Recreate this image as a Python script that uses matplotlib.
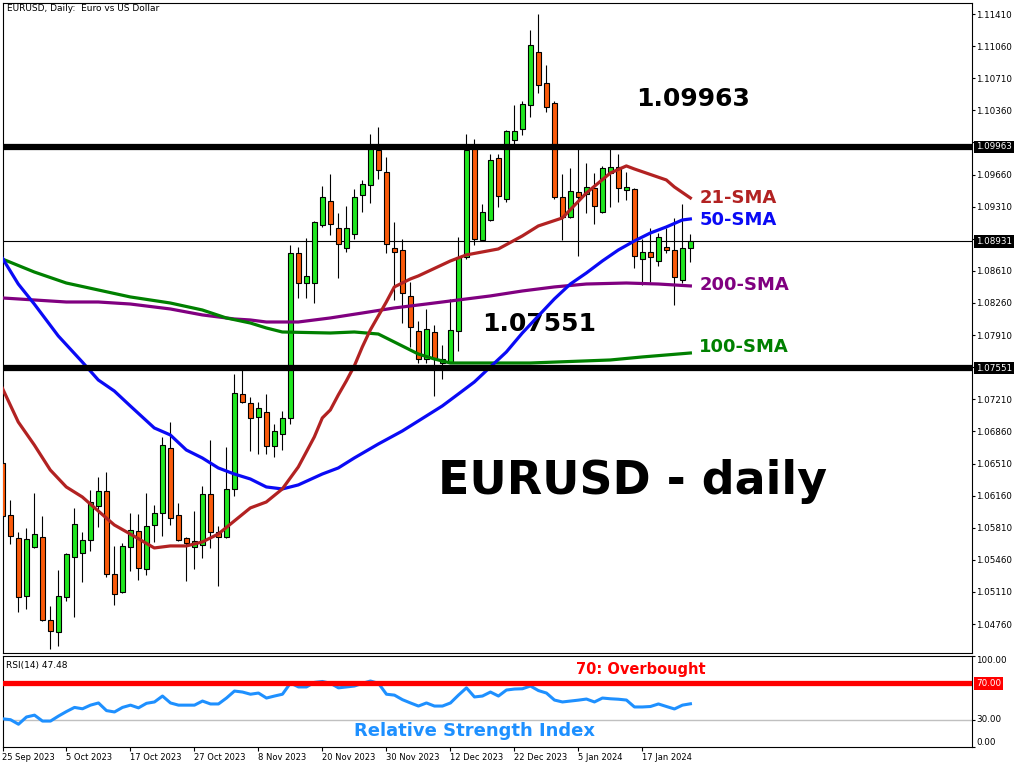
import matplotlib.pyplot as plt
import matplotlib.transforms as mtransforms
import numpy as np

# EURUSD daily candles, 25 Sep 2023 .. 25 Jan 2024 (one bar per trading day)
opens = [1.06516, 1.05950, 1.05699, 1.05067, 1.05601, 1.05710, 1.04805, 1.04674, 1.05056, 1.05492,
         1.05535, 1.05677, 1.06048, 1.06211, 1.05306, 1.05110, 1.05601, 1.05775, 1.05361, 1.05841,
         1.05971, 1.06680, 1.05950, 1.05699, 1.05601, 1.05623, 1.06178, 1.05764, 1.05710, 1.06233,
         1.07268, 1.07170, 1.07018, 1.07072, 1.06702, 1.06832, 1.07007, 1.08805, 1.08478, 1.08478,
         1.09111, 1.09372, 1.09078, 1.08860, 1.09012, 1.09438, 1.09547, 1.09928, 1.09688, 1.08860,
         1.08838, 1.08337, 1.07955, 1.07650, 1.07944, 1.07606, 1.07617, 1.07955, 1.08762, 1.09950,
         1.08947, 1.09165, 1.09841, 1.09394, 1.10037, 1.10157, 1.10419, 1.10996, 1.10658, 1.10440,
         1.09416, 1.09198, 1.09470, 1.09448, 1.09514, 1.09252, 1.09677, 1.09743, 1.09492, 1.09503,
         1.08740, 1.08817, 1.08718, 1.08871, 1.08838, 1.08511, 1.08860]
highs = [1.06571, 1.06113, 1.05764, 1.05808, 1.06189, 1.05939, 1.04958, 1.05350, 1.05535, 1.06026,
         1.05764, 1.06222, 1.06364, 1.06418, 1.05612, 1.05644, 1.05971, 1.05960, 1.06189, 1.06059,
         1.06800, 1.06963, 1.06080, 1.05710, 1.05993, 1.06266, 1.06767, 1.05829, 1.06691, 1.07486,
         1.07552, 1.07236, 1.07181, 1.07268, 1.06941, 1.07083, 1.08893, 1.08871, 1.08969, 1.09154,
         1.09536, 1.09666, 1.09241, 1.09318, 1.09503, 1.09601, 1.10102, 1.10179, 1.09852, 1.09143,
         1.08958, 1.08489, 1.08064, 1.08195, 1.08021, 1.07803, 1.08304, 1.08980, 1.10102, 1.10048,
         1.09339, 1.09884, 1.09884, 1.10146, 1.10419, 1.10462, 1.11236, 1.11410, 1.10855, 1.10462,
         1.09666, 1.09732, 1.09961, 1.09786, 1.09677, 1.09754, 1.09950, 1.09884, 1.09688, 1.09514,
         1.08958, 1.09078, 1.09023, 1.09078, 1.09187, 1.09339, 1.09012]
lows = [1.05906, 1.05633, 1.04892, 1.04925, 1.05590, 1.04794, 1.04489, 1.04522, 1.05012, 1.04838,
        1.05219, 1.05557, 1.05819, 1.05274, 1.04969, 1.05099, 1.05339, 1.05241, 1.05296, 1.05655,
        1.05721, 1.05840, 1.05666, 1.05230, 1.05361, 1.05481, 1.05590, 1.05176, 1.05699, 1.06157,
        1.07170, 1.06647, 1.06614, 1.06614, 1.06582, 1.06658, 1.06941, 1.08315, 1.08315, 1.08260,
        1.09089, 1.09002, 1.08533, 1.08816, 1.08958, 1.09252, 1.09350, 1.09612, 1.08805, 1.08293,
        1.08042, 1.07781, 1.07606, 1.07606, 1.07247, 1.07432, 1.07606, 1.07737, 1.08740, 1.08893,
        1.08936, 1.09154, 1.09307, 1.09361, 1.09950, 1.10092, 1.10288, 1.10549, 1.10342, 1.09394,
        1.08947, 1.09187, 1.08773, 1.09241, 1.09121, 1.09241, 1.09307, 1.09361, 1.09383, 1.08642,
        1.08457, 1.08489, 1.08664, 1.08806, 1.08239, 1.08478, 1.08707]
closes = [1.05939, 1.05721, 1.05056, 1.05688, 1.05742, 1.04805, 1.04685, 1.05067, 1.05524, 1.05851,
          1.05677, 1.06091, 1.06211, 1.05306, 1.05088, 1.05612, 1.05786, 1.05372, 1.05830, 1.05971,
          1.06713, 1.05917, 1.05677, 1.05644, 1.05666, 1.06178, 1.05764, 1.05710, 1.06233, 1.07279,
          1.07181, 1.07007, 1.07116, 1.06702, 1.06865, 1.07007, 1.08805, 1.08478, 1.08555, 1.09143,
          1.09416, 1.09121, 1.08903, 1.09078, 1.09416, 1.09557, 1.09961, 1.09710, 1.08903, 1.08816,
          1.08369, 1.07999, 1.07650, 1.07977, 1.07661, 1.07650, 1.07966, 1.08762, 1.09928, 1.08958,
          1.09252, 1.09819, 1.09427, 1.10135, 1.10135, 1.10429, 1.11073, 1.10637, 1.10397, 1.09416,
          1.09198, 1.09481, 1.09416, 1.09525, 1.09318, 1.09732, 1.09743, 1.09514, 1.09525, 1.08773,
          1.08817, 1.08762, 1.08980, 1.08838, 1.08544, 1.08860, 1.08931]

rsi = [31, 30, 25, 33, 35, 28.5, 28.5, 34, 39, 43.5,
       42, 46, 48.4, 40, 38.5, 43.5, 46, 43, 48, 49.5,
       56, 48.4, 46, 46, 46, 50.5, 47.3, 47.3, 53.8, 61.5,
       60.4, 58, 59.3, 53.8, 56, 58, 70.3, 66, 66, 71,
       72, 70, 65, 66, 67, 70, 72.5, 70, 58, 57,
       52, 48.4, 45, 48.4, 45, 45, 48.4, 57, 65, 55,
       56, 60.4, 56, 62.6, 63.7, 64, 67, 62, 59.3, 51.6,
       49.5, 50.5, 51.5, 52.7, 49.5, 53.8, 53, 52.5, 51.6, 44,
       44, 44.5, 47.3, 44.5, 41.8, 46, 47.48]

# moving averages read at selected bars
sma21_idx = [0, 2, 4, 6, 8, 10, 12, 14, 16, 19, 21, 23, 25, 27, 29, 31, 33, 35, 37, 38, 39, 40,
             41, 42, 43, 44, 45, 46, 47, 48, 49, 51, 52, 56, 58, 62, 65, 67, 70, 73, 76, 78, 79, 83, 84, 86]
sma21 = [1.07334, 1.06963, 1.06713, 1.06440, 1.06255, 1.06146, 1.05993, 1.05841, 1.05742, 1.05590,
         1.05612, 1.05612, 1.05655, 1.05742, 1.05884, 1.06026, 1.06091, 1.06233, 1.06473, 1.06636,
         1.06800, 1.07007, 1.07094, 1.07258, 1.07410, 1.07574, 1.07781, 1.07966, 1.08119, 1.08271,
         1.08435, 1.08522, 1.08555, 1.08718, 1.08784, 1.08849, 1.08991, 1.09100, 1.09187, 1.09459,
         1.09677, 1.09754, 1.09721, 1.09601, 1.09525, 1.09405]
sma50_idx = [0, 2, 4, 7, 10, 12, 14, 16, 19, 21, 23, 25, 27, 29, 31, 33, 35, 37, 40, 42, 44, 47,
             50, 52, 55, 57, 59, 61, 63, 65, 67, 69, 71, 73, 75, 77, 79, 81, 83, 85, 86]
sma50 = [1.08751, 1.08467, 1.08249, 1.07901, 1.07617, 1.07421, 1.07301, 1.07138, 1.06898, 1.06822,
         1.06658, 1.06571, 1.06462, 1.06396, 1.06342, 1.06255, 1.06233, 1.06277, 1.06396, 1.06462,
         1.06571, 1.06723, 1.06865, 1.06974, 1.07138, 1.07268, 1.07399, 1.07563, 1.07726, 1.07933,
         1.08119, 1.08304, 1.08467, 1.08587, 1.08718, 1.08838, 1.08936, 1.09023, 1.09089, 1.09165,
         1.09176]
sma100_idx = [0, 4, 8, 12, 16, 21, 25, 28, 31, 33, 35, 41, 44, 47, 49, 52, 54, 56, 66, 76, 80, 86]
sma100 = [1.08740, 1.08598, 1.08478, 1.08402, 1.08326, 1.08260, 1.08184, 1.08097, 1.08042, 1.07988,
          1.07944, 1.07933, 1.07944, 1.07922, 1.07835, 1.07704, 1.07650, 1.07606, 1.07606, 1.07639,
          1.07672, 1.07715]
sma200_idx = [0, 4, 8, 12, 16, 21, 25, 29, 31, 33, 37, 41, 45, 49, 53, 57, 61, 65, 69, 73, 78, 82, 86]
sma200 = [1.08315, 1.08293, 1.08271, 1.08271, 1.08249, 1.08195, 1.08130, 1.08086, 1.08075, 1.08053,
          1.08053, 1.08097, 1.08151, 1.08206, 1.08249, 1.08293, 1.08337, 1.08391, 1.08435, 1.08467,
          1.08478, 1.08467, 1.08446]

resistance = 1.09963
support = 1.07551
last_price = 1.08931

price_ticks = [1.11410, 1.11060, 1.10710, 1.10360, 1.10010, 1.09660, 1.09310, 1.08960, 1.08610, 1.08260,
               1.07910, 1.07560, 1.07210, 1.06860, 1.06510, 1.06160, 1.05810, 1.05460, 1.05110, 1.04760]
date_ticks = [0, 8, 16, 24, 32, 40, 48, 56, 64, 72, 80]
date_labels = ['25 Sep 2023', '5 Oct 2023', '17 Oct 2023', '27 Oct 2023', '8 Nov 2023', '20 Nov 2023',
               '30 Nov 2023', '12 Dec 2023', '22 Dec 2023', '5 Jan 2024', '17 Jan 2024']

W, H = 1024, 768


def box(l, t, r, b):
    return [l / W, 1 - b / H, (r - l) / W, (b - t) / H]


fig = plt.figure(figsize=(10.24, 7.68), dpi=100)
ax = fig.add_axes(box(2.5, 3, 972, 653))
ax2 = fig.add_axes(box(2.5, 656, 972, 747))

x = np.arange(len(opens))
o = np.array(opens)
c = np.array(closes)
up = c >= o
body_lo = np.minimum(o, c)
body_h = np.maximum(np.abs(c - o), 0.00005)

# candles
ax.vlines(x, lows, highs, color='black', lw=0.8, zorder=2)
ax.bar(x, body_h, bottom=body_lo, width=0.6,
       color=np.where(up, '#1FE61F', '#FA5A0A'),
       edgecolor='black', linewidth=0.8, zorder=3)

# moving averages
ax.plot(sma200_idx, sma200, color='#800080', lw=2.3, zorder=4)
ax.plot(sma100_idx, sma100, color='#008000', lw=2.3, zorder=4)
ax.plot(sma50_idx, sma50, color='#0A0AF5', lw=2.3, zorder=4)
ax.plot(sma21_idx, sma21, color='#B22222', lw=2.3, zorder=4)

ax.axhline(resistance, color='black', lw=4.5, zorder=5)
ax.axhline(support, color='black', lw=4.5, zorder=5)
ax.axhline(last_price, color='black', lw=0.8, zorder=1)

ax.set_xlim(0.03, 121.2)
ax.set_ylim(1.04445, 1.11530)
ax.set_xticks([])
ax.yaxis.tick_right()
ax.set_yticks(price_ticks)
# labels sitting under the price tags are covered in the original
tagged = [resistance, last_price, support]
ax.set_yticklabels(['' if min(abs(v - p) for p in tagged) < 0.0006 else f'{v:.5f}'
                    for v in price_ticks])
ax.tick_params(axis='y', length=2, width=0.8, pad=1.2, labelsize=6.3)

trans = mtransforms.blended_transform_factory(ax.transAxes, ax.transData)
for p in tagged:
    ax.annotate(f'{p:.5f}', xy=(1, p), xycoords=trans, xytext=(2.8, 0), textcoords='offset points',
                color='white', fontsize=6.3, ha='left', va='center', annotation_clip=False,
                bbox=dict(boxstyle='square,pad=0.2', fc='black', ec='none'), zorder=10)

ax.text(0.0046, 0.992, 'EURUSD, Daily:  Euro vs US Dollar', transform=ax.transAxes,
        fontsize=6.5, ha='left', va='center')

bold = dict(fontweight='bold', va='center_baseline')
ax.text(86.3, 1.10506, '1.09963', ha='center', fontsize=18, color='black', **bold)
ax.text(67.1, 1.08053, '1.07551', ha='center', fontsize=18, color='black', **bold)
ax.text(87.1, 1.09427, '21-SMA', ha='left', fontsize=13, color='#B22222', **bold)
ax.text(87.1, 1.09187, '50-SMA', ha='left', fontsize=13, color='#0A0AF5', **bold)
ax.text(87.1, 1.08478, '200-SMA', ha='left', fontsize=13, color='#800080', **bold)
ax.text(87.1, 1.07803, '100-SMA', ha='left', fontsize=13, color='#008000', **bold)
ax.text(78.8, 1.06364, 'EURUSD - daily', ha='center', fontsize=33, color='black', **bold)

# RSI panel
ax2.plot(x, rsi, color='#1E90FF', lw=2.2, zorder=3)
ax2.axhline(70, color='#FF0000', lw=3.8, zorder=5)
ax2.axhline(30, color='#C0C0C0', lw=1, zorder=1)
ax2.set_xlim(0.03, 121.2)
ax2.set_ylim(0, 100)
ax2.yaxis.tick_right()
ax2.set_yticks([0, 30, 100])
ax2.set_yticklabels(['0.00', '30.00', '100.00'])
ax2.tick_params(axis='y', length=2, width=0.8, pad=1.2, labelsize=6.3)
for lbl, va in zip(ax2.get_yticklabels(), ['bottom', 'center', 'top']):
    lbl.set_va(va)
ax2.set_xticks(date_ticks)
ax2.set_xticklabels(date_labels, ha='left')
ax2.tick_params(axis='x', length=3, width=0.8, pad=1.5, labelsize=6)

trans2 = mtransforms.blended_transform_factory(ax2.transAxes, ax2.transData)
ax2.annotate('70.00', xy=(1, 70), xycoords=trans2, xytext=(2.8, 0), textcoords='offset points',
             color='white', fontsize=6.3, ha='left', va='center', annotation_clip=False,
             bbox=dict(boxstyle='square,pad=0.2', fc='#FF0000', ec='none'), zorder=10)

ax2.text(0.004, 0.9, 'RSI(14) 47.48', transform=ax2.transAxes, fontsize=6.5, ha='left', va='center')
ax2.text(79.8, 86.8, '70: Overbought', ha='center', fontsize=10.5, color='#FF0000', **bold)
ax2.text(59, 19.8, 'Relative Strength Index', ha='center', fontsize=13, color='#1E90FF', **bold)

for a in (ax, ax2):
    for s in a.spines.values():
        s.set_linewidth(0.8)
        s.set_color('black')

fig.savefig('out.png', dpi=100, facecolor='white')
